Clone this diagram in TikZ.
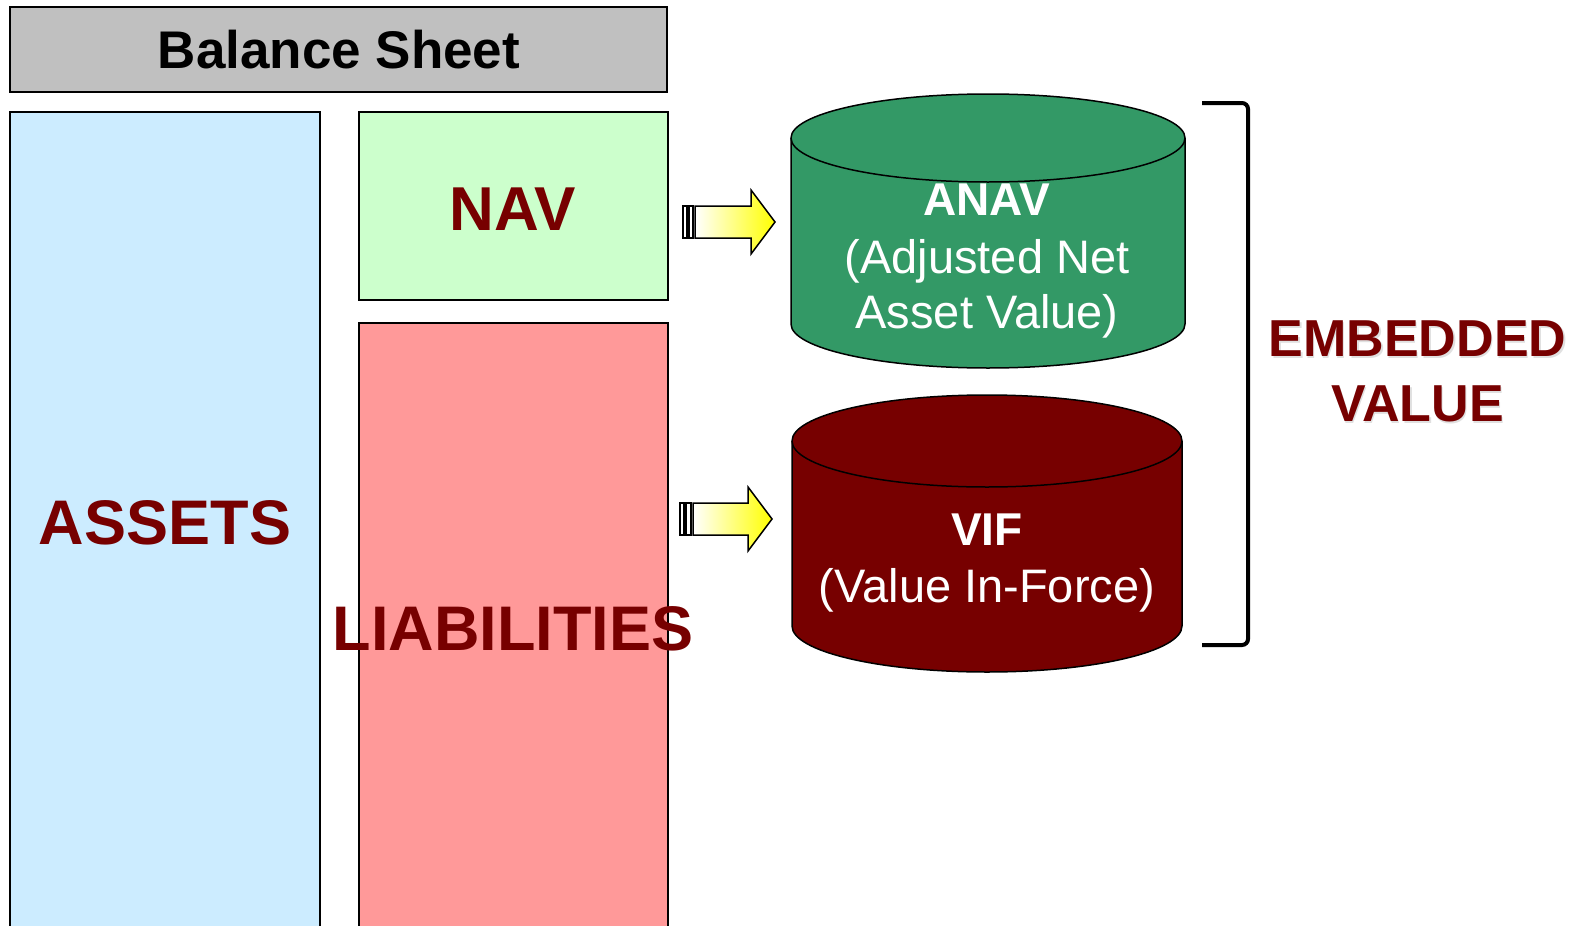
\documentclass[tikz,border=0pt]{standalone}
\usepackage{fontspec}
\setmainfont{Liberation Sans}
\usepackage{tikz}
\usetikzlibrary{calc}
\definecolor{evred}{RGB}{119,0,0}
\definecolor{evgreen}{RGB}{51,153,102}
\tikzstyle{redlabel} = [anchor=base, inner sep=0pt, text=evred, font=\bfseries\fontsize{63}{70}\selectfont]
\tikzstyle{cyltext} = [anchor=base, inner sep=0pt, text=white, font=\fontsize{47}{54}\selectfont]
\tikzstyle{cylhead} = [anchor=base, inner sep=0pt, text=white, font=\bfseries\fontsize{46}{52}\selectfont]
\tikzstyle{blockarrow} = [line width=1.5, shade, left color=white, right color=yellow]
\tikzstyle{tailbar} = [line width=1.5, fill=white]

\begin{document}
\begin{tikzpicture}[x=1pt,y=1pt,yscale=-1,xscale=1]
\useasboundingbox (0,0) rectangle (1585,926);

%Shape: Rectangle [header]
\draw  [line width=1.5, fill={rgb, 255:red, 192; green, 192; blue, 192 }] (10,7) rectangle (667,92) ;
%Shape: Rectangle [assets]
\draw  [line width=1.5, fill={rgb, 255:red, 204; green, 236; blue, 255 }] (10,112) rectangle (320,940) ;
%Shape: Rectangle [nav]
\draw  [line width=1.5, fill={rgb, 255:red, 204; green, 255; blue, 204 }] (359,112) rectangle (668,300) ;
%Shape: Rectangle [liabilities]
\draw  [line width=1.5, fill={rgb, 255:red, 255; green, 153; blue, 153 }] (359,323) rectangle (668,940) ;

%Shape: Block Arrow [upper]
\draw  [tailbar] (683,206) rectangle (687,238) ;
\draw  [tailbar] (689,206) rectangle (693,238) ;
\draw  [blockarrow] (695,206) -- (751,206) -- (751,190) -- (775,222) -- (751,254) -- (751,238) -- (695,238) -- cycle ;
%Shape: Block Arrow [lower]
\draw  [tailbar] (680,503) rectangle (684,535) ;
\draw  [tailbar] (686,503) rectangle (691,535) ;
\draw  [blockarrow] (693,503) -- (748,503) -- (748,487) -- (772,519) -- (748,551) -- (748,535) -- (693,535) -- cycle ;

%Shape: Can [anav]
\draw  [line width=1.5, fill=evgreen] (791,138) -- (791,324) arc [start angle=180, end angle=0, x radius=197, y radius=44] -- (1185,138) arc [start angle=0, end angle=-180, x radius=197, y radius=44] -- cycle ;
\draw  [line width=1.5] (791,138) arc [start angle=180, end angle=0, x radius=197, y radius=44] ;
%Shape: Can [vif]
\draw  [line width=1.5, fill=evred] (792,441) -- (792,626) arc [start angle=180, end angle=0, x radius=195, y radius=46] -- (1182,441) arc [start angle=0, end angle=-180, x radius=195, y radius=46] -- cycle ;
\draw  [line width=1.5] (792,441) arc [start angle=180, end angle=0, x radius=195, y radius=46] ;

%Shape: Right Bracket
\draw  [line width=4, rounded corners=6] (1202,103) -- (1248,103) -- (1248,645) -- (1202,645) ;

% Text Node
\draw (339,68) node (title) [anchor=base, inner sep=0pt, font=\bfseries\fontsize{53}{60}\selectfont] {Balance Sheet};
% Text Node
\draw (165,544) node (assets) [redlabel] {ASSETS};
% Text Node
\draw (513,230) node (navlbl) [redlabel, font=\bfseries\fontsize{62}{68}\selectfont] {NAV};
% Text Node
\draw (513,650) node (liab) [redlabel] {LIABILITIES};
% Text Node
\draw (987,215) node (anav) [cylhead] {ANAV};
\draw (987,273) node (anavsub) [cyltext] {(Adjusted Net};
\draw (987,328) node (anavsubb) [cyltext] {Asset Value)};
% Text Node
\draw (987,545) node (vif) [cylhead] {VIF};
\draw (987,602) node (vifsub) [cyltext] {(Value In-Force)};
% Text Node
\draw (1419,358.2) node (embshadow) [redlabel, text=black!12, font=\bfseries\fontsize{52}{58}\selectfont] {EMBEDDED};
\draw (1419,423.2) node (valshadow) [redlabel, text=black!12, font=\bfseries\fontsize{52}{58}\selectfont] {VALUE};
\draw (1417.5,356.7) node (emb) [redlabel, font=\bfseries\fontsize{52}{58}\selectfont] {EMBEDDED};
\draw (1417.5,421.7) node (val) [redlabel, font=\bfseries\fontsize{52}{58}\selectfont] {VALUE};

\end{tikzpicture}
\end{document}
